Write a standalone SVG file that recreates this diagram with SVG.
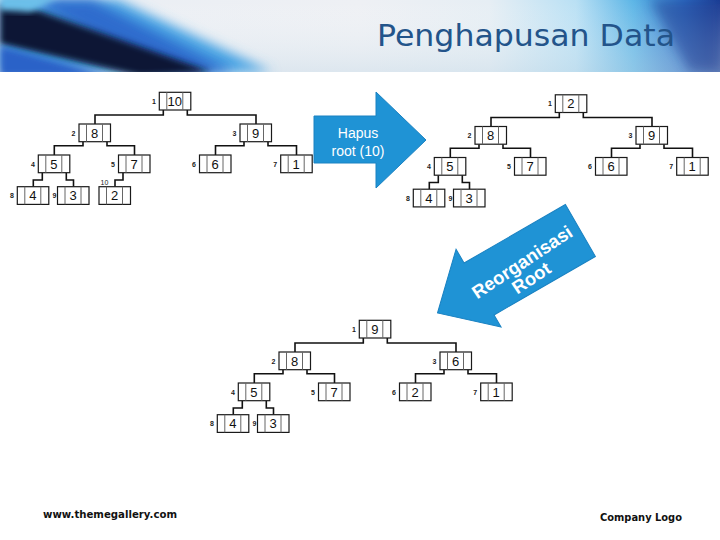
<svg xmlns="http://www.w3.org/2000/svg" width="720" height="540" viewBox="0 0 720 540">
<defs>
<linearGradient id="bg" x1="0" y1="0" x2="1" y2="0">
<stop offset="0" stop-color="#e9eef4"/>
<stop offset="0.5" stop-color="#eef0f4"/>
<stop offset="0.68" stop-color="#e6eef4"/>
<stop offset="0.8" stop-color="#b9e0f4"/>
<stop offset="0.88" stop-color="#5cb5e6"/>
<stop offset="0.95" stop-color="#2c6fc6"/>
<stop offset="1" stop-color="#1a3c94"/>
</linearGradient>
<linearGradient id="vshade" x1="0" y1="0" x2="0" y2="1">
<stop offset="0" stop-color="#ffffff" stop-opacity="0"/>
<stop offset="1" stop-color="#c8dbe8" stop-opacity="0.45"/>
</linearGradient>
<clipPath id="bannerClip"><rect x="0" y="0" width="720" height="72"/></clipPath>
<filter id="blur6" x="-20%" y="-20%" width="140%" height="140%"><feGaussianBlur stdDeviation="6"/></filter>
<filter id="blur3" x="-20%" y="-20%" width="140%" height="140%"><feGaussianBlur stdDeviation="3"/></filter>
<style>
.box{fill:#fff;stroke:#1a1a1a;stroke-width:1.2}
.div{fill:none;stroke:#666;stroke-width:1}
.val{font-family:"Liberation Sans",Arial,sans-serif;font-size:13px;fill:#111;text-anchor:middle}
.lbl{font-family:"Liberation Sans",Arial,sans-serif;font-size:7px;font-weight:bold;fill:#222;text-anchor:end}
.lbl10{font-family:"Liberation Sans",Arial,sans-serif;font-size:7px;fill:#222}
.con{fill:none;stroke:#111;stroke-width:1.6}
.arrow{fill:#1f93d5;stroke:#1a82c2;stroke-width:1}
.atext{font-family:"Liberation Sans",Arial,sans-serif;font-size:14px;fill:#fff;text-anchor:middle}
.atext2{font-family:"Liberation Sans",Arial,sans-serif;font-size:18.5px;font-weight:bold;fill:#fff;text-anchor:middle}
.foot{font-family:"DejaVu Sans",Verdana,sans-serif;font-size:10px;font-weight:bold;fill:#111}
</style>
</defs>

<rect x="0" y="0" width="720" height="540" fill="#ffffff"/>

<!-- Header banner -->
<g id="banner" clip-path="url(#bannerClip)">
<rect x="0" y="0" width="720" height="72" fill="url(#bg)"/>
<rect x="0" y="0" width="720" height="72" fill="url(#vshade)"/>
<polygon points="0,0 118,0 272,72 0,72" fill="#49a4e4" filter="url(#blur6)"/>
<polygon points="30,0 92,0 235,72 160,72" fill="#2d6ccd" filter="url(#blur6)"/>
<polygon points="0,6 20,4 212,72 140,76 0,44" fill="#0b1636" filter="url(#blur3)"/>
<polygon points="0,46 110,76 0,76" fill="#2a62c8" filter="url(#blur3)"/>
<polygon points="0,-4 60,-4 30,12 0,10" fill="#6cc0ea" filter="url(#blur3)"/>
<polygon points="650,0 720,0 720,72 690,72" fill="#1a3a90" opacity="0.5" filter="url(#blur6)"/>
<text x="377" y="46" font-family="'DejaVu Sans',Verdana,sans-serif" font-size="30" fill="#23548a" textLength="298" lengthAdjust="spacingAndGlyphs">Penghapusan Data</text>
</g>

<!-- Arrow 1 -->
<g id="arrow-hapus">
<polygon class="arrow" points="314,116 376,116 376,92 426,140 376,188 376,163 314,163"/>
<text class="atext" x="358" y="138">Hapus</text>
<text class="atext" x="358" y="156">root (10)</text>
</g>

<!-- Arrow 2 -->
<g id="arrow-reorg">
<polygon class="arrow" transform="translate(437.5,313) rotate(-30)" points="0,0 48,-46 48,-30 165,-30 165,30 48,30 48,44"/>
<g transform="translate(522,262) rotate(-33.5)">
<text class="atext2" x="0" y="6.5">Reorganisasi</text>
<text class="atext2" x="-1" y="24.8">Root</text>
</g>
</g>

<!-- Tree 1 -->
<g id="tree1">
<g id="tree1-connectors">
<path class="con" d="M163.3 110V115H95V124"/>
<path class="con" d="M187.3 110V115H256V124"/>
<path class="con" d="M83 141.7V145.7H54.3V155"/>
<path class="con" d="M107 141.7V145.7H134.5V155"/>
<path class="con" d="M244 141.7V145.7H215.5V155"/>
<path class="con" d="M268 141.7V145.7H296.5V155"/>
<path class="con" d="M42.3 172.7V180H33.3V186.7"/>
<path class="con" d="M66.3 172.7V180H73.5V186.7"/>
<path class="con" d="M123 172.7V180H115V186.7"/>
</g>
<g id="t1-n1" transform="translate(159.3,92.3)"><rect class="box" width="31.5" height="17.7"/><path class="div" d="M7.5 0V17.7M23.5 0V17.7"/><text class="val" x="15.5" y="13.5">10</text><text class="lbl" x="-3.5" y="11.5">1</text></g>
<g id="t1-n2" transform="translate(79,124)"><rect class="box" width="31.5" height="17.7"/><path class="div" d="M7.5 0V17.7M23.5 0V17.7"/><text class="val" x="15.5" y="13.5">8</text><text class="lbl" x="-3.5" y="11.5">2</text></g>
<g id="t1-n3" transform="translate(240,124)"><rect class="box" width="31.5" height="17.7"/><path class="div" d="M7.5 0V17.7M23.5 0V17.7"/><text class="val" x="15.5" y="13.5">9</text><text class="lbl" x="-3.5" y="11.5">3</text></g>
<g id="t1-n4" transform="translate(38.3,155)"><rect class="box" width="31.5" height="17.7"/><path class="div" d="M7.5 0V17.7M23.5 0V17.7"/><text class="val" x="15.5" y="13.5">5</text><text class="lbl" x="-3.5" y="11.5">4</text></g>
<g id="t1-n5" transform="translate(118.5,155)"><rect class="box" width="31.5" height="17.7"/><path class="div" d="M7.5 0V17.7M23.5 0V17.7"/><text class="val" x="15.5" y="13.5">7</text><text class="lbl" x="-3.5" y="11.5">5</text></g>
<g id="t1-n6" transform="translate(199.5,155)"><rect class="box" width="31.5" height="17.7"/><path class="div" d="M7.5 0V17.7M23.5 0V17.7"/><text class="val" x="15.5" y="13.5">6</text><text class="lbl" x="-3.5" y="11.5">6</text></g>
<g id="t1-n7" transform="translate(280.7,155)"><rect class="box" width="31.5" height="17.7"/><path class="div" d="M7.5 0V17.7M23.5 0V17.7"/><text class="val" x="15.5" y="13.5">1</text><text class="lbl" x="-3.5" y="11.5">7</text></g>
<g id="t1-n8" transform="translate(17.3,186.7)"><rect class="box" width="31.5" height="17.7"/><path class="div" d="M7.5 0V17.7M23.5 0V17.7"/><text class="val" x="15.5" y="13.5">4</text><text class="lbl" x="-3.5" y="11.5">8</text></g>
<g id="t1-n9" transform="translate(57.5,186.7)"><rect class="box" width="31.5" height="17.7"/><path class="div" d="M7.5 0V17.7M23.5 0V17.7"/><text class="val" x="15.5" y="13.5">3</text><text class="lbl" x="-1" y="11.5">9</text></g>
<g id="t1-n10" transform="translate(99,186.7)"><rect class="box" width="31.5" height="17.7"/><path class="div" d="M7.5 0V17.7M23.5 0V17.7"/><text class="val" x="15.5" y="13.5">2</text><text class="lbl10" x="1.5" y="-2">10</text></g>
</g>

<!-- Tree 2 -->
<g id="tree2" transform="translate(396,2.5)">
<g id="tree2-connectors">
<path class="con" d="M163.3 110V115H95V124"/>
<path class="con" d="M187.3 110V115H256V124"/>
<path class="con" d="M83 141.7V145.7H54.3V155"/>
<path class="con" d="M107 141.7V145.7H134.5V155"/>
<path class="con" d="M244 141.7V145.7H215.5V155"/>
<path class="con" d="M268 141.7V145.7H296.5V155"/>
<path class="con" d="M42.3 172.7V180H33.3V186.7"/>
<path class="con" d="M66.3 172.7V180H73.5V186.7"/>
</g>
<g id="t2-n1" transform="translate(159.3,92.3)"><rect class="box" width="31.5" height="17.7"/><path class="div" d="M7.5 0V17.7M23.5 0V17.7"/><text class="val" x="15.5" y="13.5">2</text><text class="lbl" x="-3.5" y="11.5">1</text></g>
<g id="t2-n2" transform="translate(79,124)"><rect class="box" width="31.5" height="17.7"/><path class="div" d="M7.5 0V17.7M23.5 0V17.7"/><text class="val" x="15.5" y="13.5">8</text><text class="lbl" x="-3.5" y="11.5">2</text></g>
<g id="t2-n3" transform="translate(240,124)"><rect class="box" width="31.5" height="17.7"/><path class="div" d="M7.5 0V17.7M23.5 0V17.7"/><text class="val" x="15.5" y="13.5">9</text><text class="lbl" x="-3.5" y="11.5">3</text></g>
<g id="t2-n4" transform="translate(38.3,155)"><rect class="box" width="31.5" height="17.7"/><path class="div" d="M7.5 0V17.7M23.5 0V17.7"/><text class="val" x="15.5" y="13.5">5</text><text class="lbl" x="-3.5" y="11.5">4</text></g>
<g id="t2-n5" transform="translate(118.5,155)"><rect class="box" width="31.5" height="17.7"/><path class="div" d="M7.5 0V17.7M23.5 0V17.7"/><text class="val" x="15.5" y="13.5">7</text><text class="lbl" x="-3.5" y="11.5">5</text></g>
<g id="t2-n6" transform="translate(199.5,155)"><rect class="box" width="31.5" height="17.7"/><path class="div" d="M7.5 0V17.7M23.5 0V17.7"/><text class="val" x="15.5" y="13.5">6</text><text class="lbl" x="-3.5" y="11.5">6</text></g>
<g id="t2-n7" transform="translate(280.7,155)"><rect class="box" width="31.5" height="17.7"/><path class="div" d="M7.5 0V17.7M23.5 0V17.7"/><text class="val" x="15.5" y="13.5">1</text><text class="lbl" x="-3.5" y="11.5">7</text></g>
<g id="t2-n8" transform="translate(17.3,186.7)"><rect class="box" width="31.5" height="17.7"/><path class="div" d="M7.5 0V17.7M23.5 0V17.7"/><text class="val" x="15.5" y="13.5">4</text><text class="lbl" x="-3.5" y="11.5">8</text></g>
<g id="t2-n9" transform="translate(57.5,186.7)"><rect class="box" width="31.5" height="17.7"/><path class="div" d="M7.5 0V17.7M23.5 0V17.7"/><text class="val" x="15.5" y="13.5">3</text><text class="lbl" x="-1" y="11.5">9</text></g>
</g>

<!-- Tree 3 -->
<g id="tree3" transform="translate(200,228)">
<g id="tree3-connectors">
<path class="con" d="M163.3 110V115H95V124"/>
<path class="con" d="M187.3 110V115H256V124"/>
<path class="con" d="M83 141.7V145.7H54.3V155"/>
<path class="con" d="M107 141.7V145.7H134.5V155"/>
<path class="con" d="M244 141.7V145.7H215.5V155"/>
<path class="con" d="M268 141.7V145.7H296.5V155"/>
<path class="con" d="M42.3 172.7V180H33.3V186.7"/>
<path class="con" d="M66.3 172.7V180H73.5V186.7"/>
</g>
<g id="t3-n1" transform="translate(159.3,92.3)"><rect class="box" width="31.5" height="17.7"/><path class="div" d="M7.5 0V17.7M23.5 0V17.7"/><text class="val" x="15.5" y="13.5">9</text><text class="lbl" x="-3.5" y="11.5">1</text></g>
<g id="t3-n2" transform="translate(79,124)"><rect class="box" width="31.5" height="17.7"/><path class="div" d="M7.5 0V17.7M23.5 0V17.7"/><text class="val" x="15.5" y="13.5">8</text><text class="lbl" x="-3.5" y="11.5">2</text></g>
<g id="t3-n3" transform="translate(240,124)"><rect class="box" width="31.5" height="17.7"/><path class="div" d="M7.5 0V17.7M23.5 0V17.7"/><text class="val" x="15.5" y="13.5">6</text><text class="lbl" x="-3.5" y="11.5">3</text></g>
<g id="t3-n4" transform="translate(38.3,155)"><rect class="box" width="31.5" height="17.7"/><path class="div" d="M7.5 0V17.7M23.5 0V17.7"/><text class="val" x="15.5" y="13.5">5</text><text class="lbl" x="-3.5" y="11.5">4</text></g>
<g id="t3-n5" transform="translate(118.5,155)"><rect class="box" width="31.5" height="17.7"/><path class="div" d="M7.5 0V17.7M23.5 0V17.7"/><text class="val" x="15.5" y="13.5">7</text><text class="lbl" x="-3.5" y="11.5">5</text></g>
<g id="t3-n6" transform="translate(199.5,155)"><rect class="box" width="31.5" height="17.7"/><path class="div" d="M7.5 0V17.7M23.5 0V17.7"/><text class="val" x="15.5" y="13.5">2</text><text class="lbl" x="-3.5" y="11.5">6</text></g>
<g id="t3-n7" transform="translate(280.7,155)"><rect class="box" width="31.5" height="17.7"/><path class="div" d="M7.5 0V17.7M23.5 0V17.7"/><text class="val" x="15.5" y="13.5">1</text><text class="lbl" x="-3.5" y="11.5">7</text></g>
<g id="t3-n8" transform="translate(17.3,186.7)"><rect class="box" width="31.5" height="17.7"/><path class="div" d="M7.5 0V17.7M23.5 0V17.7"/><text class="val" x="15.5" y="13.5">4</text><text class="lbl" x="-3.5" y="11.5">8</text></g>
<g id="t3-n9" transform="translate(57.5,186.7)"><rect class="box" width="31.5" height="17.7"/><path class="div" d="M7.5 0V17.7M23.5 0V17.7"/><text class="val" x="15.5" y="13.5">3</text><text class="lbl" x="-1" y="11.5">9</text></g>
</g>

<!-- Footer -->
<text class="foot" x="43" y="518" textLength="134" lengthAdjust="spacingAndGlyphs">www.themegallery.com</text>
<text class="foot" x="600" y="521" textLength="82" lengthAdjust="spacingAndGlyphs">Company Logo</text>
</svg>
